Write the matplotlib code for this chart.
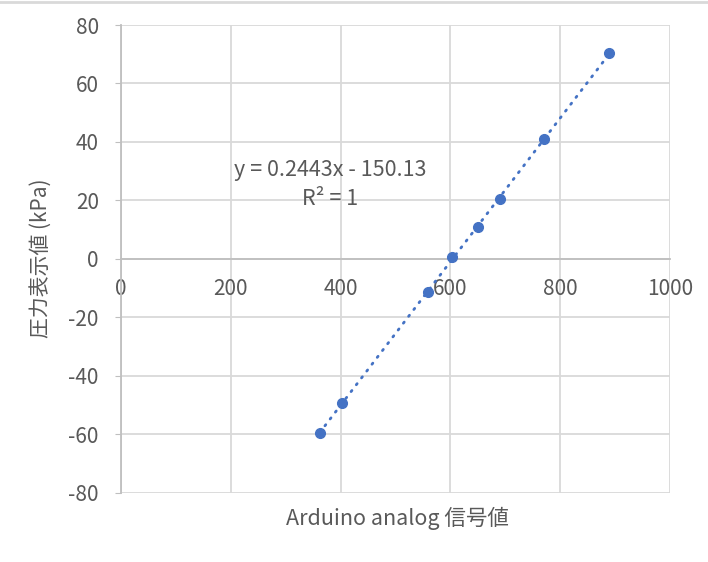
import numpy as np
import matplotlib
matplotlib.use('Agg')
import matplotlib.pyplot as plt
from matplotlib.lines import Line2D

plt.rcParams['font.family'] = ['Noto Sans CJK JP', 'DejaVu Sans']
plt.rcParams['axes.unicode_minus'] = False

# readings from the picture
signal = [362, 403, 559, 603, 650, 691, 770, 890]
pressure = [-59.5, -49.2, -11.4, 0.7, 10.8, 20.5, 41.0, 70.4]
x_ticks = [0, 200, 400, 600, 800, 1000]
y_ticks = [-80, -60, -40, -20, 0, 20, 40, 60, 80]
eq_text = 'y = 0.2443x - 150.13'
r2_text = 'R² = 1'

blue = '#4472C4'
grey_txt = '#595959'
grid_c = '#d9d9d9'
axis_c = '#bfbfbf'

fig = plt.figure(figsize=(7.08, 5.62), dpi=100)
ax = fig.add_axes([0.171, 0.1233, 0.775, 0.8322])

# linear trendline over the data range
k, b = np.polyfit(signal, pressure, 1)
xs = np.array([min(signal), max(signal)])
ax.plot(xs, k * xs + b, color=blue, lw=2.0, linestyle=(0, (0.5, 2.6)),
        dash_capstyle='round', zorder=3)
ax.plot(signal, pressure, 'o', color=blue, ms=7, zorder=4)

ax.set_xlim(0, 1000)
ax.set_ylim(-80, 80)
ax.set_xticks(x_ticks)
ax.set_yticks(y_ticks)
ax.grid(True, color=grid_c, lw=1.3)
ax.set_axisbelow(True)

for s in ['top', 'right']:
    ax.spines[s].set_visible(False)
ax.spines['bottom'].set_position(('data', 0))
ax.spines['bottom'].set_color(axis_c)
ax.spines['left'].set_color(axis_c)
ax.spines['bottom'].set_linewidth(1.3)
ax.spines['left'].set_linewidth(1.3)
ax.tick_params(axis='x', length=0, pad=14, labelsize=15, labelcolor=grey_txt)
ax.tick_params(axis='y', length=4, color=axis_c, pad=12, labelsize=15,
               labelcolor=grey_txt)

ax.text(382, 30.4, eq_text, ha='center', va='center', fontsize=15.5, color=grey_txt)
ax.text(381, 20.5, r2_text, ha='center', va='center', fontsize=15.5, color=grey_txt)

fig.text(0.561, 0.078, 'Arduino analog 信号値', ha='center', va='center',
         fontsize=15.5, color=grey_txt)
fig.text(0.057, 0.541, '圧力表示値 (kPa)', ha='center', va='center',
         rotation=90, fontsize=15, color=grey_txt)

# outer chart border at the top edge
fig.add_artist(Line2D([0, 1], [0.997, 0.997], color=grid_c, lw=2,
                      transform=fig.transFigure))

fig.savefig('out.png', dpi=100)
